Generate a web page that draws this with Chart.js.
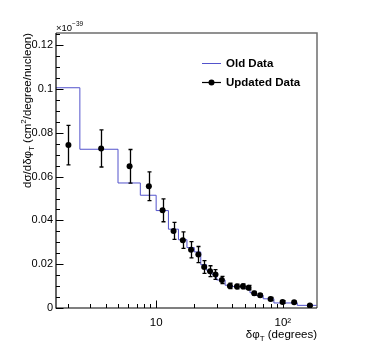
<!DOCTYPE html>
<html>
<head>
<meta charset="utf-8">
<script src="https://cdn.jsdelivr.net/npm/chart.js@4/dist/chart.umd.min.js"></script>
<style>
  html, body { margin: 0; padding: 0; background: #fff; }
  #wrap { width: 374px; height: 363px; }
</style>
</head>
<body>
<div id="wrap"><canvas id="myChart" width="374" height="363"></canvas></div>
<script>
(function () {
  // Old data: step histogram (bin edges and bin contents)
  const oldEdges = [1, 2.5, 5, 7.5, 10, 12.5, 15, 17.5, 20, 22.5, 25, 27.5, 30, 35, 40, 45, 50, 55, 60, 70, 85, 130, 190];
  const oldValues = [0.1006, 0.0725, 0.0571, 0.0515, 0.0445, 0.0360, 0.0312, 0.0276, 0.0256, 0.0198, 0.0172, 0.0154,
                     0.0128, 0.0104, 0.0098, 0.0097, 0.0090, 0.0070, 0.0057, 0.0042, 0.0023, 0.0012];

  // Updated data: points with symmetric errors
  const newX = [2.03, 3.68, 6.17, 8.76, 11.24, 13.72, 16.24, 18.86, 21.53, 23.93, 26.63, 29.4,
                33.0, 38.2, 43.4, 48.4, 53.6, 59.4, 66.2, 80, 99.5, 122.8, 163.4];
  const newY = [0.0744, 0.0729, 0.0647, 0.0556, 0.0446, 0.0352, 0.0310, 0.0266, 0.0244, 0.0187, 0.0168, 0.0153,
                0.0128, 0.0101, 0.0098, 0.0099, 0.0093, 0.0067, 0.0058, 0.0041, 0.0027, 0.0026, 0.0011];
  const newErr = [0.0090, 0.0085, 0.0077, 0.0066, 0.0052, 0.0039, 0.0038, 0.0037, 0.0037, 0.0029, 0.0025, 0.0022,
                  0.0016, 0.0012, 0.0011, 0.0011, 0.0010, 0.0009, 0.0008, 0.0007, 0.0006, 0.0005, 0.0004];

  // Axis ranges and tick labels
  const xRange = [1.62, 186];
  const yRange = [0, 0.1256];
  const yMajor = [0, 0.02, 0.04, 0.06, 0.08, 0.1, 0.12];
  const yMinorStep = 0.005;
  const xLabels = { 10: '10', 100: '10²' };

  const FONT = "'Liberation Sans', Arial, Helvetica, sans-serif";
  const BLUE = '#5353cc';

  const histPoints = oldEdges.map((e, i) => ({ x: e, y: oldValues[Math.min(i, oldValues.length - 1)] }));
  const dataPoints = newX.map((x, i) => ({ x: x, y: newY[i], err: newErr[i] }));

  // draws text made of parts with optional sub/superscripts
  function richText(ctx, parts, x, y, align) {
    let w = 0;
    parts.forEach(p => { ctx.font = p.font; w += ctx.measureText(p.t).width; });
    let cx = align === 'right' ? x - w : (align === 'center' ? x - w / 2 : x);
    ctx.textAlign = 'left';
    ctx.textBaseline = 'alphabetic';
    parts.forEach(p => {
      ctx.font = p.font;
      ctx.fillText(p.t, cx, y + (p.dy || 0));
      cx += ctx.measureText(p.t).width;
    });
  }

  const rootStyle = {
    id: 'rootStyle',
    afterDatasetsDraw(chart) {
      const ctx = chart.ctx;
      const xs = chart.scales.x, ys = chart.scales.y;
      const area = chart.chartArea;
      ctx.save();
      ctx.beginPath();
      ctx.rect(area.left, area.top, area.right - area.left, area.bottom - area.top);
      ctx.clip();
      ctx.strokeStyle = '#000';
      ctx.lineWidth = 1.3;
      dataPoints.forEach(p => {
        const px = Math.round(xs.getPixelForValue(p.x)) + 0.5;
        const top = ys.getPixelForValue(p.y + p.err);
        const bot = ys.getPixelForValue(p.y - p.err);
        ctx.beginPath();
        ctx.moveTo(px, top); ctx.lineTo(px, bot);
        ctx.moveTo(px - 2, top); ctx.lineTo(px + 2, top);
        ctx.moveTo(px - 2, bot); ctx.lineTo(px + 2, bot);
        ctx.stroke();
      });
      ctx.restore();
    },
    afterDraw(chart) {
      const ctx = chart.ctx;
      const xs = chart.scales.x, ys = chart.scales.y;
      const a = chart.chartArea;
      ctx.save();

      // frame: top/right grey, axes black
      ctx.strokeStyle = '#6e6e6e';
      ctx.lineWidth = 1.5;
      ctx.beginPath();
      ctx.moveTo(a.left, a.top); ctx.lineTo(a.right, a.top); ctx.lineTo(a.right, a.bottom);
      ctx.stroke();
      ctx.strokeStyle = '#000';
      ctx.lineWidth = 1.2;
      ctx.beginPath();
      ctx.moveTo(a.left, a.top); ctx.lineTo(a.left, a.bottom); ctx.lineTo(a.right, a.bottom);
      ctx.stroke();

      // y ticks pointing inward
      ctx.lineWidth = 1;
      ctx.beginPath();
      for (let v = yRange[0]; v <= yRange[1] + 1e-9; v += yMinorStep) {
        const major = yMajor.some(m => Math.abs(m - v) < 1e-6);
        const py = Math.round(ys.getPixelForValue(v)) + 0.5;
        ctx.moveTo(a.left, py);
        ctx.lineTo(a.left + (major ? 7.5 : 4), py);
      }
      // x ticks (log) pointing inward
      for (let d = 1; d <= 100; d *= 10) {
        for (let k = 1; k <= 9; k++) {
          const v = k * d;
          if (v < xRange[0] || v > xRange[1]) continue;
          const px = Math.round(xs.getPixelForValue(v)) + 0.5;
          ctx.moveTo(px, a.bottom);
          ctx.lineTo(px, a.bottom - (k === 1 ? 7.5 : 4));
        }
      }
      ctx.stroke();

      ctx.fillStyle = '#000';
      // exponent label
      richText(ctx, [
        { t: '×10', font: '9.5px ' + FONT },
        { t: '−39', font: '6.5px ' + FONT, dy: -5 }
      ], a.left, a.top - 2, 'left');

      // x title
      richText(ctx, [
        { t: 'δφ', font: '11.5px ' + FONT },
        { t: 'T', font: '8px ' + FONT, dy: 3 },
        { t: ' (degrees)', font: '11.5px ' + FONT }
      ], a.right, 338, 'right');

      // y title (rotated)
      ctx.save();
      ctx.translate(31, a.top);
      ctx.rotate(-Math.PI / 2);
      richText(ctx, [
        { t: 'dσ/dδφ', font: '11.5px ' + FONT },
        { t: 'T', font: '8px ' + FONT, dy: 3 },
        { t: ' (cm', font: '11.5px ' + FONT },
        { t: '2', font: '8px ' + FONT, dy: -5 },
        { t: '/degree/nucleon)', font: '11.5px ' + FONT }
      ], 0, 0, 'right');
      ctx.restore();

      // legend
      const lx0 = 202, lx1 = 221, tx = 226;
      const ly1 = 63.5, ly2 = 82.5;
      ctx.strokeStyle = BLUE;
      ctx.lineWidth = 1;
      ctx.beginPath();
      ctx.moveTo(lx0, ly1); ctx.lineTo(lx1, ly1);
      ctx.stroke();
      ctx.strokeStyle = '#000';
      ctx.lineWidth = 1.2;
      ctx.beginPath();
      ctx.moveTo(lx0, ly2); ctx.lineTo(lx1, ly2);
      ctx.stroke();
      ctx.beginPath();
      ctx.arc((lx0 + lx1) / 2, ly2, 3, 0, Math.PI * 2);
      ctx.fill();
      ctx.font = 'bold 11.5px ' + FONT;
      ctx.textAlign = 'left';
      ctx.textBaseline = 'middle';
      ctx.fillText('Old Data', tx, ly1 + 0.5);
      ctx.fillText('Updated Data', tx, ly2 + 0.5);

      ctx.restore();
    }
  };

  new Chart(
    document.getElementById('myChart'),
    {
      type: 'scatter',
      data: {
        datasets: [
          {
            label: 'Old Data',
            type: 'line',
            data: histPoints,
            stepped: 'before',
            borderColor: BLUE,
            borderWidth: 1,
            pointRadius: 0,
            fill: false,
            order: 2,
          },
          {
            label: 'Updated Data',
            data: dataPoints,
            pointRadius: 3,
            pointBackgroundColor: '#000',
            pointBorderColor: '#000',
            borderWidth: 0,
            order: 1,
          },
        ],
      },
      options: {
        responsive: false,
        animation: false,
        devicePixelRatio: 1,
        layout: { padding: { left: 0, top: 33, right: 57, bottom: 0 } },
        plugins: { legend: { display: false }, tooltip: { enabled: false } },
        scales: {
          x: {
            type: 'logarithmic',
            min: xRange[0],
            max: xRange[1],
            grid: { display: false, drawTicks: false },
            border: { display: false },
            afterFit(scale) { scale.height = 55; },
            afterBuildTicks(scale) {
              scale.ticks = Object.keys(xLabels).map(v => ({ value: +v }));
            },
            ticks: {
              autoSkip: false,
              maxRotation: 0,
              padding: 8,
              color: '#000',
              font: { family: FONT, size: 11.5 },
              callback: v => xLabels[v] || '',
            },
          },
          y: {
            min: yRange[0],
            max: yRange[1],
            grid: { display: false, drawTicks: false },
            border: { display: false },
            afterFit(scale) { scale.width = 56; },
            afterBuildTicks(scale) {
              scale.ticks = yMajor.map(v => ({ value: v }));
            },
            ticks: {
              padding: 3,
              color: '#000',
              font: { family: FONT, size: 11 },
              callback: v => (v === 0 ? '0' : String(+v.toFixed(2))),
            },
          },
        },
      },
      plugins: [rootStyle],
    }
  );
})();
</script>
</body>
</html>
